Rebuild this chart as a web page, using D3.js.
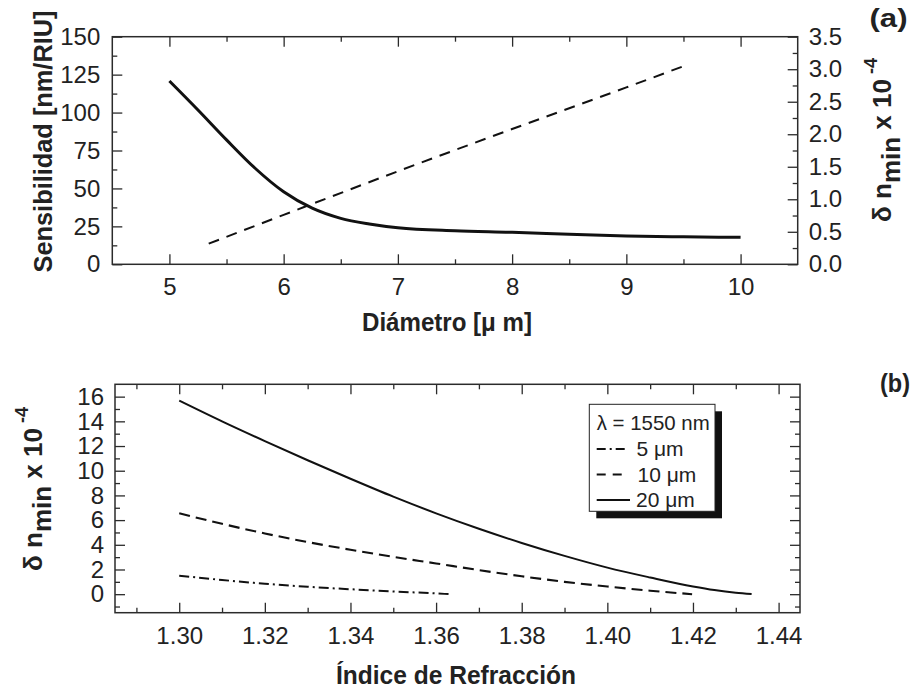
<!DOCTYPE html>
<html><head><meta charset="utf-8">
<script src="https://cdn.jsdelivr.net/npm/d3@7"></script>
<style>
body{margin:0;background:#fff}
text{font-family:"Liberation Sans",Arial,Helvetica,sans-serif;fill:#222}
</style>
</head><body>
<svg id="chart" width="914" height="692"></svg>
<script>
// ---------- Panel (a) data ----------
const diamSens   = [5, 5.25, 5.5, 5.75, 6, 6.25, 6.5, 6.75, 7, 7.5, 8, 8.5, 9, 9.5, 10];
const sensValues = [120.8, 101.7, 82, 63.3, 47.8, 37, 30.3, 26.6, 24.1, 22.1, 21.1, 19.8, 18.6, 18.1, 17.8];
const diamDn     = [5.344, 6, 7, 8, 9, 9.545];
const dnValues   = [0.317, 0.76, 1.43, 2.08, 2.72, 3.076];
const xTicksA      = [5, 6, 7, 8, 9, 10];
const yTicksLeftA  = [0, 25, 50, 75, 100, 125, 150];
const yTicksRightA = [0, 0.5, 1, 1.5, 2, 2.5, 3, 3.5];

// ---------- Panel (b) data ----------
const n5   = [1.30, 1.31, 1.32, 1.33, 1.34, 1.35, 1.36, 1.3633];
const v5   = [1.50, 1.15, 0.85, 0.60, 0.40, 0.22, 0.06, 0.0];
const n10  = [1.30, 1.31, 1.32, 1.33, 1.34, 1.35, 1.36, 1.37, 1.38, 1.39, 1.40, 1.41, 1.4198];
const v10  = [6.55, 5.70, 4.92, 4.22, 3.60, 3.02, 2.49, 1.95, 1.45, 1.00, 0.62, 0.28, 0.0];
const n20  = [1.30, 1.31, 1.32, 1.33, 1.34, 1.35, 1.36, 1.37, 1.38, 1.39, 1.40, 1.41, 1.42, 1.425, 1.43, 1.4337];
const v20  = [15.68, 14.0, 12.4, 10.85, 9.35, 7.9, 6.55, 5.3, 4.15, 3.1, 2.15, 1.35, 0.62, 0.33, 0.12, 0.02];
const xTicksB = [1.30, 1.32, 1.34, 1.36, 1.38, 1.40, 1.42, 1.44];
const yTicksB = [0, 2, 4, 6, 8, 10, 12, 14, 16];
const legendTitle  = "λ = 1550 nm";
const legendLabels = ["5 μm", "10 μm", "20 μm"];

// ---------- helpers ----------
const svg = d3.select("#chart");
const INK = "#222", FRAME = "#2b2b2b";
const TICKFONT = 24;

function styleAxis(g){
  g.select(".domain").remove();
  g.selectAll(".tick line").attr("stroke", FRAME).attr("stroke-width", 1.3);
  g.selectAll(".tick text").attr("fill", INK).style("font-size", TICKFONT + "px");
}
function addAxis(gen, tx, ty){
  const g = svg.append("g").attr("transform", `translate(${tx},${ty})`).call(gen);
  styleAxis(g);
  return g;
}
function frame(x0, y0, x1, y1){
  svg.append("rect").attr("x", x0).attr("y", y0).attr("width", x1 - x0).attr("height", y1 - y0)
    .attr("fill", "none").attr("stroke", FRAME).attr("stroke-width", 1.5);
}
function title(x, y, txt, size, len, rot){
  const t = svg.append("text")
    .attr("transform", `translate(${x},${y})` + (rot ? " rotate(-90)" : ""))
    .attr("text-anchor", "middle").style("font-size", size + "px").style("font-weight", "bold")
    .text(txt);
  if (len) t.attr("textLength", len).attr("lengthAdjust", "spacingAndGlyphs");
  return t;
}
function dnLabel(tx, ty){
  const t = svg.append("text").attr("transform", `translate(${tx},${ty}) rotate(-90)`)
    .attr("text-anchor", "middle").style("font-size", "26px").style("font-weight", "bold");
  t.append("tspan").text("δ n");
  t.append("tspan").attr("dy", 9).text("min");
  t.append("tspan").attr("dy", -9).text(" x 10");
  t.append("tspan").attr("dy", -14).attr("dx", 5).style("font-size", "18px").text("-4");
}

// ================= Panel (a) =================
const A = {l: 112.3, r: 797.7, t: 36.7, b: 264.3};
const xA  = d3.scaleLinear().domain([4.5, 10.5]).range([A.l, A.r]);
const yAL = d3.scaleLinear().domain([0, 150]).range([A.b, A.t]);
const yAR = d3.scaleLinear().domain([0, 3.5]).range([A.b, A.t]);

const xMinorA  = d3.range(5.5, 10, 1);
const yMinorAL = d3.range(12.5, 150, 25);
const yMinorAR = d3.range(0.25, 3.5, 0.5);

addAxis(d3.axisBottom(xA).tickValues(xMinorA).tickSize(-5).tickFormat(""), 0, A.b);
addAxis(d3.axisTop(xA).tickValues(xMinorA).tickSize(-5).tickFormat(""), 0, A.t);
addAxis(d3.axisLeft(yAL).tickValues(yMinorAL).tickSize(-5).tickFormat(""), A.l, 0);
addAxis(d3.axisRight(yAR).tickValues(yMinorAR).tickSize(-5).tickFormat(""), A.r, 0);
addAxis(d3.axisBottom(xA).tickValues(xTicksA).tickSize(-10).tickPadding(14).tickFormat(d3.format("d")), 0, A.b);
addAxis(d3.axisTop(xA).tickValues(xTicksA).tickSize(-10).tickFormat(""), 0, A.t);
addAxis(d3.axisLeft(yAL).tickValues(yTicksLeftA).tickSize(-10).tickPadding(12).tickFormat(d3.format("d")), A.l, 0);
addAxis(d3.axisRight(yAR).tickValues(yTicksRightA).tickSize(-10).tickPadding(11).tickFormat(d3.format(".1f")), A.r, 0);
frame(A.l, A.t, A.r, A.b);

const lineSens = d3.line().x((d, i) => xA(diamSens[i])).y(d => yAL(d)).curve(d3.curveMonotoneX);
svg.append("path").datum(sensValues).attr("d", lineSens)
  .attr("fill", "none").attr("stroke", "#111").attr("stroke-width", 3);
const lineDn = d3.line().x((d, i) => xA(diamDn[i])).y(d => yAR(d)).curve(d3.curveMonotoneX);
svg.append("path").datum(dnValues).attr("d", lineDn)
  .attr("fill", "none").attr("stroke", "#111").attr("stroke-width", 2).attr("stroke-dasharray", "11,8");

title(52, 141.5, "Sensibilidad [nm/RIU]", 26, 262, true);
title(447, 331, "Diámetro [μ m]", 25, 170, false);
dnLabel(891, 140);
svg.append("text").attr("x", 888.5).attr("y", 27).attr("text-anchor", "middle")
  .style("font-size", "26px").style("font-weight", "bold")
  .attr("textLength", 38).attr("lengthAdjust", "spacingAndGlyphs").text("(a)");

// ================= Panel (b) =================
const B = {l: 115, r: 800, t: 384.3, b: 612.7};
const xB = d3.scaleLinear().domain([1.285, 1.445]).range([B.l, B.r]);
const yB = d3.scaleLinear().domain([-1.5, 17]).range([B.b, B.t]);

const xMinorB = d3.range(1.29, 1.44, 0.02);
const yMinorB = d3.range(-1, 17, 2);

addAxis(d3.axisBottom(xB).tickValues(xMinorB).tickSize(-5).tickFormat(""), 0, B.b);
addAxis(d3.axisTop(xB).tickValues(xMinorB).tickSize(-5).tickFormat(""), 0, B.t);
addAxis(d3.axisLeft(yB).tickValues(yMinorB).tickSize(-5).tickFormat(""), B.l, 0);
addAxis(d3.axisRight(yB).tickValues(yMinorB).tickSize(-5).tickFormat(""), B.r, 0);
addAxis(d3.axisBottom(xB).tickValues(xTicksB).tickSize(-10).tickPadding(14).tickFormat(d3.format(".2f")), 0, B.b);
addAxis(d3.axisTop(xB).tickValues(xTicksB).tickSize(-10).tickFormat(""), 0, B.t);
addAxis(d3.axisLeft(yB).tickValues(yTicksB).tickSize(-10).tickPadding(11).tickFormat(d3.format("d")), B.l, 0);
addAxis(d3.axisRight(yB).tickValues(yTicksB).tickSize(-10).tickFormat(""), B.r, 0);
frame(B.l, B.t, B.r, B.b);

const series = [
  {n: n5,  v: v5,  dash: "10,4,2,4", w: 2},
  {n: n10, v: v10, dash: "11,6",     w: 2.1},
  {n: n20, v: v20, dash: null,       w: 2}
];
series.forEach(s => {
  const ln = d3.line().x((d, i) => xB(s.n[i])).y(d => yB(d)).curve(d3.curveMonotoneX);
  const p = svg.append("path").datum(s.v).attr("d", ln)
    .attr("fill", "none").attr("stroke", "#111").attr("stroke-width", s.w);
  if (s.dash) p.attr("stroke-dasharray", s.dash);
});

// legend
const L = {x: 589.3, y: 404.3, w: 125.7, h: 107, off: 7};
svg.append("rect").attr("x", L.x + L.off).attr("y", L.y + L.off).attr("width", L.w).attr("height", L.h).attr("fill", "#111");
svg.append("rect").attr("x", L.x).attr("y", L.y).attr("width", L.w).attr("height", L.h)
  .attr("fill", "#fff").attr("stroke", "#222").attr("stroke-width", 1);
svg.append("text").attr("x", 596.7).attr("y", 429.5).style("font-size", "21px")
  .attr("textLength", 113).attr("lengthAdjust", "spacingAndGlyphs").text(legendTitle);
const legDash = ["9,4,2,4", "9,7", null];
const legLen  = [30, 25, 33.3];
const legTextX = [636.5, 637.5, 636];
legendLabels.forEach((lab, i) => {
  const yy = 449 + i * 25.5;
  const ln = svg.append("line").attr("x1", 596.7).attr("x2", 596.7 + legLen[i]).attr("y1", yy).attr("y2", yy)
    .attr("stroke", "#111").attr("stroke-width", 2);
  if (legDash[i]) ln.attr("stroke-dasharray", legDash[i]);
  svg.append("text").attr("x", legTextX[i]).attr("y", yy + 7).style("font-size", "21px").text(lab);
});

title(456, 684, "Índice de Refracción", 25, 240, false);
dnLabel(42, 489);
svg.append("text").attr("x", 895).attr("y", 392).attr("text-anchor", "middle")
  .style("font-size", "26px").style("font-weight", "bold")
  .attr("textLength", 30).attr("lengthAdjust", "spacingAndGlyphs").text("(b)");
</script>
</body></html>
